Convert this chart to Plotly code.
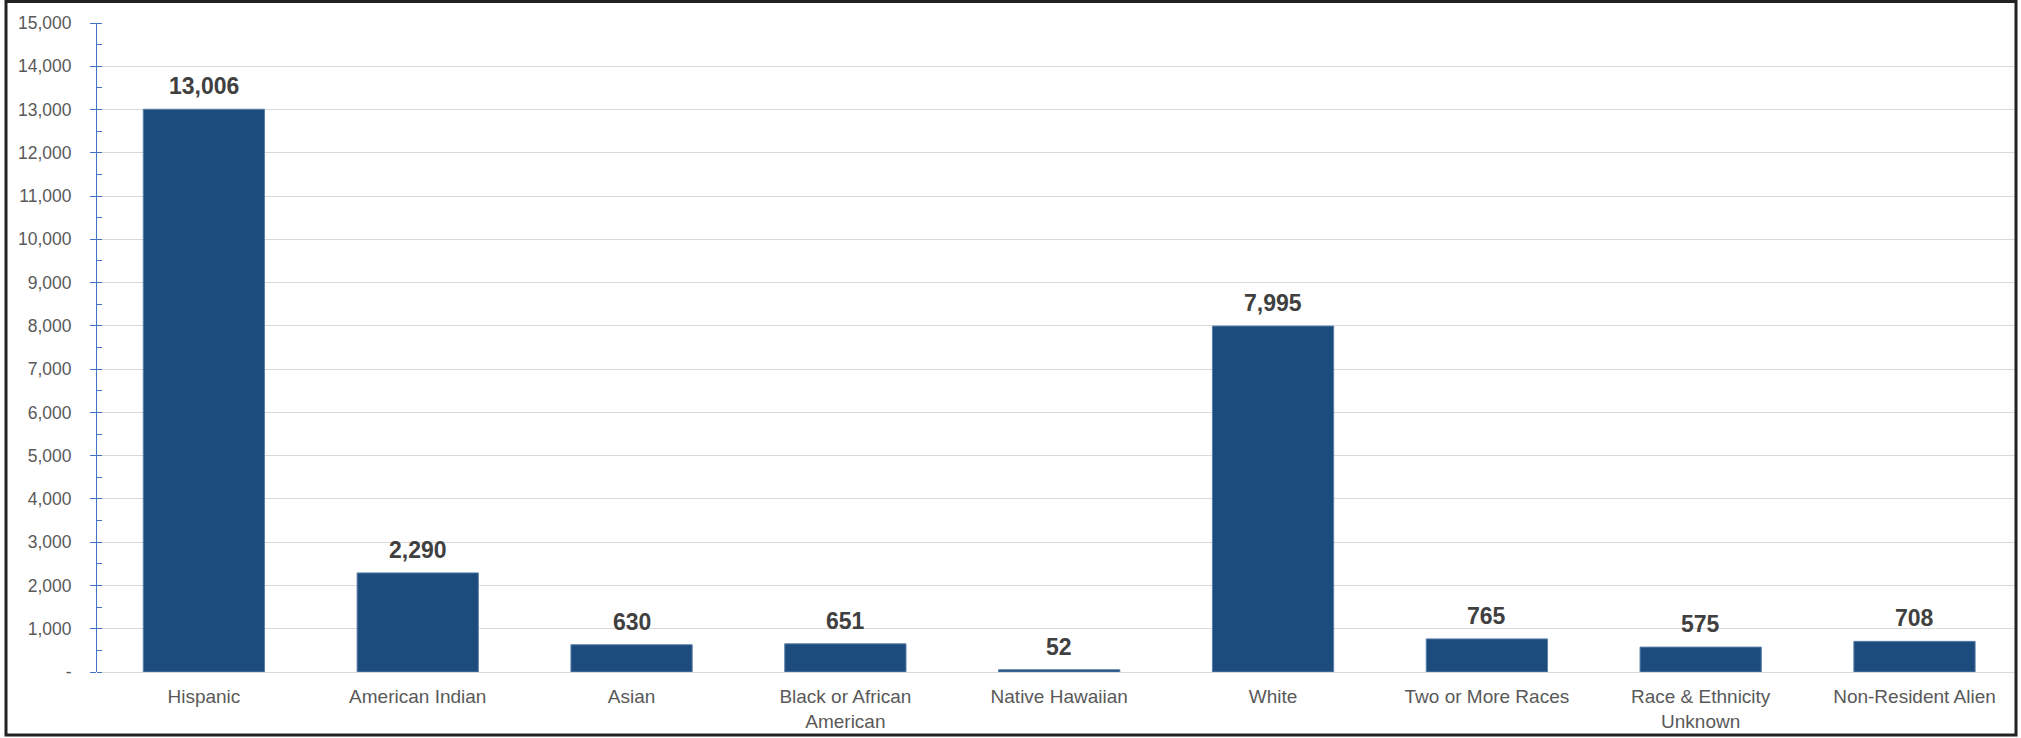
import plotly.graph_objects as go

categories = ["Hispanic", "American Indian", "Asian", "Black or African<br>American",
              "Native Hawaiian", "White", "Two or More Races",
              "Race & Ethnicity<br>Unknown", "Non-Resident Alien"]
values = [13006, 2290, 630, 651, 52, 7995, 765, 575, 708]
y_tickvals = list(range(0, 15001, 1000))
y_ticktext = ["-"] + [f"{v:,}" for v in y_tickvals[1:]]

W, H = 2021, 738
ML, MR, MT, MB = 97, 6, 23, 66
PW, PH = W - ML - MR, H - MT - MB
FONT = "Liberation Sans, Arial, Helvetica, sans-serif"

fig = go.Figure()
fig.add_trace(go.Bar(
    x=categories, y=values,
    marker=dict(color="#1C4B7D", line=dict(color="#5A7FA8", width=1)),
    width=0.567,
    hoverinfo="x+y",
))

for c, v in zip(categories, values):
    fig.add_annotation(x=c, y=v, text=f"<b>{v:,}</b>", showarrow=False,
                       yanchor="bottom", yshift=8,
                       font=dict(family=FONT, size=23, color="#404040"))

def px_x(p):
    return (p - ML) / PW

def px_y(p):
    return (H - MB - p) / PH

fig.add_shape(type="rect", xref="paper", yref="paper",
              x0=px_x(6), x1=px_x(2016), y0=px_y(735), y1=px_y(1.5),
              line=dict(color="#222222", width=3), fillcolor="rgba(0,0,0,0)", layer="above")

fig.update_layout(
    width=W, height=H,
    margin=dict(l=ML, r=MR, t=MT, b=MB),
    paper_bgcolor="white", plot_bgcolor="white",
    showlegend=False,
    font=dict(family=FONT, color="#595959"),
    xaxis=dict(
        type="category",
        range=[-0.5, 8.47],
        showgrid=False, showline=False, ticks="",
        tickfont=dict(size=19, color="#595959"),
        ticklabelstandoff=11,
        fixedrange=True,
    ),
    yaxis=dict(
        range=[0, 15000],
        tickvals=y_tickvals, ticktext=y_ticktext,
        tickfont=dict(size=17.5, color="#595959"),
        showgrid=True, gridcolor="#D9D9D9", gridwidth=1,
        zeroline=True, zerolinecolor="#D9D9D9", zerolinewidth=1,
        showline=True, linecolor="#4472C4", linewidth=1,
        ticks="outside", ticklen=6, tickcolor="#4472C4", tickwidth=1,
        minor=dict(dtick=500, ticks="inside", ticklen=5, tickcolor="#4472C4", showgrid=False),
        ticklabelstandoff=15,
        fixedrange=True,
    ),
)

fig.write_html("out.html",
               config={"displayModeBar": False},
               post_script="document.body.style.margin='0';document.body.style.overflow='hidden';")
